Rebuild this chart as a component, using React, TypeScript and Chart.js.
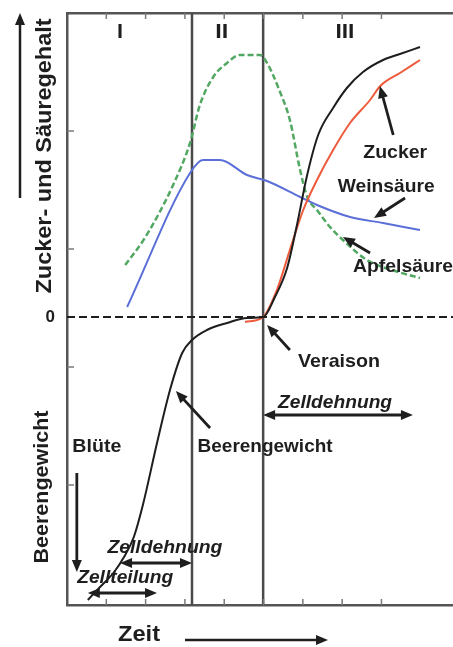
import { useEffect, useRef } from 'react';
import { Chart, registerables } from 'chart.js';

Chart.register(...registerables);

// ---- axes / phases ----
const X_MAX = 9.82;
const Y_MIN = -288;
const Y_MAX = 304;
const yTickValues = [186, 68, 0, -50, -168];
const phaseBoundaries = [3.18, 4.99];
const phaseLabels = ['I', 'II', 'III'];
const phaseLabelX = [1.35, 3.94, 7.07];

// ---- series (time units, relative content; 0 = Veraison level) ----
const beerenX = [0.53, 0.84, 1.2, 1.45, 1.7, 1.93, 2.29, 2.62, 2.93, 3.18, 3.56, 4.07, 4.58, 4.99, 5.29, 5.6, 5.85, 6.11, 6.39, 6.77, 7.12, 7.53, 8.04, 8.47, 8.98];
const beerenY = [-283, -270, -255, -240, -220, -188, -126, -73, -36, -23, -13, -6, -1, 0, 20, 49, 92, 142, 182, 209, 229, 245, 257, 263, 270];

const zuckerX = [4.53, 4.99, 5.34, 5.67, 6.01, 6.36, 6.77, 7.2, 7.71, 7.97, 8.47, 8.98];
const zuckerY = [-5, 0, 27, 67, 107, 137, 167, 194, 217, 231, 244, 257];

const weinX = [1.53, 3.13, 3.46, 3.89, 4.58, 5.09, 5.93, 6.36, 7.2, 8.04, 8.98];
const weinY = [10, 144, 157, 157, 142, 136, 120, 112, 100, 94, 87];

const apfelX = [1.48, 1.93, 2.29, 2.7, 3.13, 3.38, 3.72, 4.07, 4.4, 4.91, 5.09, 5.42, 5.67, 5.93, 6.11, 6.36, 6.69, 7.02, 7.63, 8.35, 8.98];
const apfelY = [52, 76, 100, 132, 174, 212, 240, 254, 262, 262, 254, 225, 197, 147, 120, 107, 90, 77, 57, 46, 39];

const pts = (xs: number[], ys: number[]) => xs.map((x, i) => ({ x, y: ys[i] }));

const FONT = '"Liberation Sans", Arial, sans-serif';

function fitText(ctx: CanvasRenderingContext2D, text: string, cx: number, cy: number, width: number, size: number, italic = false, rotate = 0) {
  ctx.save();
  ctx.font = `${italic ? 'italic ' : ''}bold ${size}px ${FONT}`;
  const w = ctx.measureText(text).width;
  ctx.translate(cx, cy);
  if (rotate) ctx.rotate(rotate);
  ctx.scale(width / w, 1);
  ctx.textAlign = 'center';
  ctx.textBaseline = 'middle';
  ctx.fillStyle = '#1e1e1e';
  ctx.fillText(text, 0, 0);
  ctx.restore();
}

function head(ctx: CanvasRenderingContext2D, xt: number, yt: number, xf: number, yf: number) {
  const a = Math.atan2(yt - yf, xt - xf);
  const L = 12, W = 5;
  const c = Math.cos(a), s = Math.sin(a);
  ctx.beginPath();
  ctx.moveTo(xt, yt);
  ctx.lineTo(xt - L * c + W * s, yt - L * s - W * c);
  ctx.lineTo(xt - L * c - W * s, yt - L * s + W * c);
  ctx.closePath();
  ctx.fill();
}

function arrow(ctx: CanvasRenderingContext2D, x1: number, y1: number, x2: number, y2: number, both = false, lw = 2.8) {
  const a = Math.atan2(y2 - y1, x2 - x1);
  const c = Math.cos(a), s = Math.sin(a);
  const sx = both ? x1 + 7 * c : x1, sy = both ? y1 + 7 * s : y1;
  ctx.save();
  ctx.strokeStyle = '#1e1e1e';
  ctx.fillStyle = '#1e1e1e';
  ctx.lineWidth = lw;
  ctx.beginPath();
  ctx.moveTo(sx, sy);
  ctx.lineTo(x2 - 7 * c, y2 - 7 * s);
  ctx.stroke();
  head(ctx, x2, y2, x1, y1);
  if (both) head(ctx, x1, y1, x2, y2);
  ctx.restore();
}

// annotations in data units: [x, y, pixel width, italic]
const labelTexts = ['Zucker', 'Weinsäure', 'Apfelsäure', 'Veraison', 'Zelldehnung', 'Beerengewicht', 'Blüte', 'Zelldehnung', 'Zellteilung'];
const labelPos: [number, number, number, boolean][] = [
  [8.35, 164, 64, false],
  [8.12, 130, 97, false],
  [8.55, 50, 100, false],
  [6.92, -45, 82, false],
  [6.82, -86, 114, true],
  [5.04, -130, 135, false],
  [0.76, -130, 49, false],
  [2.49, -231, 115, true],
  [1.48, -261, 96, true],
];
// arrows: x1,y1 -> x2,y2 (data units), double-headed flag
const arrowPos: [number, number, number, number, boolean][] = [
  [8.3, 182, 7.96, 231, false],
  [8.6, 119, 7.81, 99, false],
  [7.71, 64, 7.02, 80, false],
  [5.67, -33, 5.09, -8, false],
  [3.64, -111, 2.77, -74, false],
  [0.25, -156, 0.25, -255, false],
  [4.99, -98, 8.8, -98, true],
  [1.35, -246, 3.18, -246, true],
  [0.53, -276, 2.29, -276, true],
];

const annotPlugin = {
  id: 'annot',
  afterDatasetsDraw(chart: any) {
    const { ctx, chartArea } = chart;
    const xs = chart.scales.x, ys = chart.scales.y;
    const X = (v: number) => xs.getPixelForValue(v);
    const Y = (v: number) => ys.getPixelForValue(v);
    ctx.save();
    // inner tick marks
    ctx.strokeStyle = '#7a7a7a';
    ctx.lineWidth = 1.5;
    xs.ticks.forEach((t: any) => {
      if (t.value <= 0 || t.value >= X_MAX || !Number.isInteger(t.value)) return;
      const p = X(t.value);
      ctx.beginPath();
      ctx.moveTo(p, chartArea.bottom);
      ctx.lineTo(p, chartArea.bottom - 6);
      ctx.moveTo(p, chartArea.top);
      ctx.lineTo(p, chartArea.top + 6);
      ctx.stroke();
    });
    yTickValues.filter(v => v !== 0).forEach(v => {
      const p = Y(v);
      ctx.beginPath();
      ctx.moveTo(chartArea.left, p);
      ctx.lineTo(chartArea.left + 7, p);
      ctx.stroke();
    });
    ctx.restore();

    // phase labels
    phaseLabels.forEach((t, i) => fitText(ctx, t, X(phaseLabelX[i]), Y(285), [6, 13, 19][i], 20));

    labelTexts.forEach((t, i) => {
      const [x, y, w, it] = labelPos[i];
      fitText(ctx, t, X(x), Y(y), w, 19, it);
    });
    arrowPos.forEach(([x1, y1, x2, y2, b]) => arrow(ctx, X(x1), Y(y1), X(x2), Y(y2), b));

    // axis titles outside plot area
    const L = chartArea.left, T = chartArea.top, B = chartArea.bottom;
    fitText(ctx, 'Zucker- und Säuregehalt', L - 22, T + 143, 275, 22, false, -Math.PI / 2);
    arrow(ctx, L - 47, T + 185, L - 47, T, false, 2.5);
    fitText(ctx, 'Beerengewicht', L - 25, B - 118, 153, 21, false, -Math.PI / 2);
    fitText(ctx, 'Zeit', L + 72, B + 30, 42, 22);
    arrow(ctx, L + 118, B + 35, L + 261, B + 35, false, 2.5);
  },
};

const zeroPad = (s: any) => {
  s.paddingTop = 0;
  s.paddingBottom = 0;
  s.paddingLeft = 0;
  s.paddingRight = 0;
};

export default function App() {
  const ref = useRef<HTMLCanvasElement>(null);
  useEffect(() => {
    if (!ref.current) return;
    const axisBorder = { display: true, color: '#555', width: 2.5 };
    const chart = new Chart(ref.current, {
      type: 'line',
      data: {
        datasets: [
          { label: 'Beerengewicht', data: pts(beerenX, beerenY), borderColor: '#1e1e1e', borderWidth: 2, pointRadius: 0, cubicInterpolationMode: 'monotone' },
          { label: 'Zucker', data: pts(zuckerX, zuckerY), borderColor: '#ee5a3c', borderWidth: 2, pointRadius: 0, cubicInterpolationMode: 'monotone' },
          { label: 'Weinsäure', data: pts(weinX, weinY), borderColor: '#5b6fd8', borderWidth: 2, pointRadius: 0, cubicInterpolationMode: 'monotone' },
          { label: 'Apfelsäure', data: pts(apfelX, apfelY), borderColor: '#52a862', borderWidth: 2.5, borderDash: [6, 3], pointRadius: 0, cubicInterpolationMode: 'monotone' },
          { label: 'Veraison-Niveau', data: [{ x: 0, y: 0 }, { x: X_MAX, y: 0 }], borderColor: '#1e1e1e', borderWidth: 2.2, borderDash: [8, 4], pointRadius: 0 },
          ...phaseBoundaries.map(b => ({ label: 'Phase', data: [{ x: b, y: Y_MIN }, { x: b, y: Y_MAX }], borderColor: '#4a4a4a', borderWidth: 2.5, pointRadius: 0 })),
        ],
      },
      options: {
        animation: false,
        responsive: false,
        devicePixelRatio: 1,
        layout: { padding: 0 },
        plugins: { legend: { display: false }, tooltip: { enabled: false }, title: { display: false } },
        scales: {
          x: {
            type: 'linear', position: 'bottom', min: 0, max: X_MAX,
            ticks: { display: false, stepSize: 1 },
            grid: { drawOnChartArea: false, drawTicks: false },
            border: axisBorder,
            afterFit: (s: any) => { s.height = 42; zeroPad(s); },
          },
          xTop: {
            type: 'linear', position: 'top', min: 0, max: X_MAX,
            ticks: { display: false, stepSize: 1 },
            grid: { drawOnChartArea: false, drawTicks: false },
            border: axisBorder,
            afterFit: (s: any) => { s.height = 13; zeroPad(s); },
          },
          y: {
            type: 'linear', position: 'left', min: Y_MIN, max: Y_MAX,
            afterBuildTicks: (s: any) => { s.ticks = yTickValues.map(v => ({ value: v })); },
            ticks: { callback: (v: any) => (v === 0 ? '0' : ''), color: '#1e1e1e', padding: 12, font: { family: FONT, weight: 'bold', size: 17 } },
            grid: { drawOnChartArea: false, drawTicks: false },
            border: axisBorder,
            afterFit: (s: any) => { s.width = 67; zeroPad(s); },
          },
        },
      } as any,
      plugins: [annotPlugin],
    });
    return () => chart.destroy();
  }, []);
  return (
    <div style={{ position: 'absolute', left: 0, top: 0, width: 453, height: 647, background: '#fff' }}>
      <canvas ref={ref} width={453} height={647} style={{ display: 'block' }} />
    </div>
  );
}
